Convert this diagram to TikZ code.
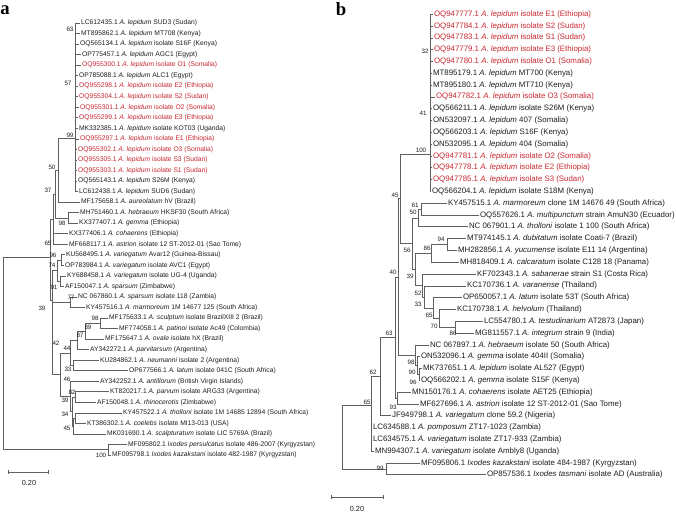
\documentclass[tikz,border=0pt]{standalone}
\usepackage{fontspec}
\setmainfont{Liberation Sans}
\newfontfamily\serifbold{Liberation Serif}
\definecolor{txt}{RGB}{30,30,30}
\definecolor{redc}{RGB}{200,40,48}
\definecolor{treeg}{RGB}{95,95,95}
\begin{document}
\begin{tikzpicture}[x=0.75pt,y=-0.75pt,
 br/.style={draw=treeg, line width=0.6pt},
 lfa/.style={anchor=west, inner xsep=0.6pt, inner ysep=0pt, font=\fontsize{5.05}{5.5}\selectfont, text=txt},
 lfb/.style={anchor=west, inner xsep=0.6pt, inner ysep=0pt, font=\fontsize{5.9}{6.5}\selectfont, text=txt},
 hl/.style={text=redc},
 bsa/.style={inner sep=0pt, font=\fontsize{4.7}{5}\selectfont, text=txt},
 bsb/.style={inner sep=0pt, font=\fontsize{4.7}{5}\selectfont, text=txt},
 panel/.style={inner sep=0pt, font=\serifbold\bfseries\fontsize{14}{14}\selectfont, text=black},
 scl/.style={inner sep=0pt, font=\fontsize{5.5}{6}\selectfont, text=txt}]
\useasboundingbox (0,0) rectangle (676,513);
\fill[white] (0,0) rectangle (676,513);

\node[panel] (pa) at (5,10) {a};
\node[panel] (pb) at (341,9) {b};

% ================= PANEL A leaves =================
\node[lfa] (a1) at (80,23.00) {LC612435.1 \textit{A. lepidum} SUD3 (Sudan)};
\node[lfa] (a2) at (80,33.54) {MT895862.1 \textit{A. lepidum} MT708 (Kenya)};
\node[lfa] (a3) at (79,44.08) {OQ565134.1 \textit{A. lepidum} isolate S16F (Kenya)};
\node[lfa] (a4) at (81,54.62) {OP775457.1 \textit{A. lepidum} AGC1 (Egypt)};
\node[lfa,hl] (a5) at (81,65.16) {OQ955300.1 \textit{A. lepidum} isolate O1 (Somalia)};
\node[lfa] (a6) at (78,75.70) {OP785088.1 \textit{A. lepidum} ALC1 (Egypt)};
\node[lfa,hl] (a7) at (78,86.24) {OQ955298.1 \textit{A. lepidum} isolate E2 (Ethiopia)};
\node[lfa,hl] (a8) at (78,96.78) {OQ955304.1 \textit{A. lepidum} isolate S2 (Sudan)};
\node[lfa,hl] (a9) at (79,107.32) {OQ955301.1 \textit{A. lepidum} isolate O2 (Somalia)};
\node[lfa,hl] (a10) at (78,117.86) {OQ955299.1 \textit{A. lepidum} isolate E3 (Ethiopia)};
\node[lfa] (a11) at (78,128.40) {MK332385.1 \textit{A. lepidum} isolate KOT03 (Uganda)};
\node[lfa,hl] (a12) at (79,138.94) {OQ955297.1 \textit{A. lepidum} isolate E1 (Ethiopia)};
\node[lfa,hl] (a13) at (77,149.48) {OQ955302.1 \textit{A. lepidum} isolate O3 (Somalia)};
\node[lfa,hl] (a14) at (77,160.02) {OQ955305.1 \textit{A. lepidum} isolate S3 (Sudan)};
\node[lfa,hl] (a15) at (77,170.56) {OQ955303.1 \textit{A. lepidum} isolate S1 (Sudan)};
\node[lfa] (a16) at (77,181.10) {OQ565143.1 \textit{A. lepidum} S26M (Kenya)};
\node[lfa] (a17) at (78,191.64) {LC612438.1 \textit{A. lepidum} SUD6 (Sudan)};
\node[lfa] (a18) at (80,202.18) {MF175658.1 \textit{A. aureolatum} hV (Brazil)};
\node[lfa] (a19) at (79,212.72) {MH751460.1 \textit{A. hebraeum} HKSF30 (South Africa)};
\node[lfa] (a20) at (78,223.26) {KX377407.1 \textit{A. gemma} (Ethiopia)};
\node[lfa] (a21) at (68,233.80) {KX377406.1 \textit{A. cohaerens} (Ethiopia)};
\node[lfa] (a22) at (68,244.34) {MF668117.1 \textit{A. astrion} isolate 12 ST-2012-01 (Sao Tome)};
\node[lfa] (a23) at (65,254.88) {KU568495.1 \textit{A. variegatum} Avar12 (Guinea-Bissau)};
\node[lfa] (a24) at (64,265.42) {OP783984.1 \textit{A. variegatum} isolate AVC1 (Egypt)};
\node[lfa] (a25) at (66,275.96) {KY688458.1 \textit{A. variegatum} isolate UG-4 (Uganda)};
\node[lfa] (a26) at (64,286.50) {AF150047.1 \textit{A. sparsum} (Zimbabwe)};
\node[lfa] (a27) at (77,297.04) {NC 067860.1 \textit{A. sparsum} isolate 118 (Zambia)};
\node[lfa] (a28) at (85,307.58) {KY457516.1 \textit{A. marmoreum} 1M 14677 125 (South Africa)};
\node[lfa] (a29) at (108,318.12) {MF175633.1 \textit{A. sculptum} isolate BrazilXIII 2 (Brazil)};
\node[lfa] (a30) at (118,328.66) {MF774058.1 \textit{A. patinoi} isolate Ac49 (Colombia)};
\node[lfa] (a31) at (104,339.20) {MF175647.1 \textit{A. ovale} isolate hX (Brazil)};
\node[lfa] (a32) at (89,349.74) {AY342272.1 \textit{A. parvitarsum} (Argentina)};
\node[lfa] (a33) at (99,360.28) {KU284862.1 \textit{A. neumanni} isolate 2 (Argentina)};
\node[lfa] (a34) at (128,370.82) {OP677566.1 \textit{A. latum} isolate 041C (South Africa)};
\node[lfa] (a35) at (99,381.36) {AY342252.1 \textit{A. antillorum} (British Virgin Islands)};
\node[lfa] (a36) at (109,391.90) {KT820217.1 \textit{A. parvum} isolate ARG33 (Argentina)};
\node[lfa] (a37) at (96,402.44) {AF150048.1 \textit{A. rhinocerotis} (Zimbabwe)};
\node[lfa] (a38) at (122,412.98) {KY457522.1 \textit{A. tholloni} isolate 1M 14685 12894 (South Africa)};
\node[lfa] (a39) at (86,423.52) {KT386302.1 \textit{A. coelebs} isolate MI13-013 (USA)};
\node[lfa] (a40) at (106,434.06) {MK031690.1 \textit{A. scalpturatum} isolate LIC 5769A (Brazil)};
\node[lfa] (a41) at (127,444.60) {MF095802.1 \textit{Ixodes persulcatus} isolate 486-2007 (Kyrgyzstan)};
\node[lfa] (a42) at (111,455.14) {MF095798.1 \textit{Ixodes kazakstani} isolate 482-1987 (Kyrgyzstan)};

% ================= PANEL A internal nodes =================
\coordinate (Ra) at (3,353.5);
\coordinate (Ia) at (50,257);
\coordinate (IXa) at (108,449.9);
\coordinate (N65a) at (53,219);
\coordinate (N37a) at (55,194);
\coordinate (N50a) at (58,170);
\coordinate (La) at (75,138);
\coordinate (N98a) at (68,218);
\coordinate (N39a) at (52,300);
\coordinate (N74a) at (57,270.7);
\coordinate (N96a) at (61,260.2);
\coordinate (N91a) at (60,281.2);
\coordinate (N77a) at (70,302.3);
\coordinate (N42a) at (60,374.8);
\coordinate (N44a) at (70,353.1);
\coordinate (N87a) at (77,340.7);
\coordinate (N89a) at (85,331.3);
\coordinate (N98b) at (100,323.4);
\coordinate (N33a) at (73,365.5);
\coordinate (N46a) at (70,396.5);
\coordinate (N39b) at (72,411.7);
\coordinate (N82a) at (75,397.2);
\coordinate (N45a) at (73,426.2);
\coordinate (N34a) at (75,418.3);

\draw[br] (Ra) |- (Ia); \draw[br] (Ra) |- (IXa);
\draw[br] (IXa) |- (a41.west); \draw[br] (IXa) |- (a42.west);
\draw[br] (Ia) |- (N65a); \draw[br] (Ia) |- (N39a);
\draw[br] (N65a) |- (N37a); \draw[br] (N65a) |- (a21.west); \draw[br] (N65a) |- (a22.west);
\draw[br] (N37a) |- (N50a); \draw[br] (N37a) |- (N98a);
\draw[br] (N50a) |- (La); \draw[br] (N50a) |- (a18.west);
\foreach \i in {1,...,17} \draw[br] (La) |- (a\i.west);
\draw[br] (N98a) |- (a19.west); \draw[br] (N98a) |- (a20.west);
\draw[br] (N39a) |- (N74a); \draw[br] (N39a) |- (N77a); \draw[br] (N39a) |- (N42a);
\draw[br] (N74a) |- (N96a); \draw[br] (N74a) |- (N91a);
\draw[br] (N96a) |- (a23.west); \draw[br] (N96a) |- (a24.west);
\draw[br] (N91a) |- (a25.west); \draw[br] (N91a) |- (a26.west);
\draw[br] (N77a) |- (a27.west); \draw[br] (N77a) |- (a28.west);
\draw[br] (N42a) |- (N44a); \draw[br] (N42a) |- (N46a);
\draw[br] (N44a) |- (N87a); \draw[br] (N44a) |- (N33a);
\draw[br] (N87a) |- (N89a); \draw[br] (N87a) |- (a32.west);
\draw[br] (N89a) |- (N98b); \draw[br] (N89a) |- (a31.west);
\draw[br] (N98b) |- (a29.west); \draw[br] (N98b) |- (a30.west);
\draw[br] (N33a) |- (a33.west); \draw[br] (N33a) |- (a34.west);
\draw[br] (N46a) |- (a35.west); \draw[br] (N46a) |- (N39b);
\draw[br] (N39b) |- (N82a); \draw[br] (N39b) |- (N45a);
\draw[br] (N82a) |- (a36.west); \draw[br] (N82a) |- (a37.west);
\draw[br] (N45a) |- (N34a); \draw[br] (N45a) |- (a40.west);
\draw[br] (N34a) |- (a38.west); \draw[br] (N34a) |- (a39.west);

% bootstrap a
\node[bsa] (ba1) at (70,29) {63};
\node[bsa] (ba2) at (68,83) {57};
\node[bsa] (ba3) at (70,135) {99};
\node[bsa] (ba4) at (52,167) {50};
\node[bsa] (ba5) at (48,190) {37};
\node[bsa] (ba6) at (62,223) {98};
\node[bsa] (ba7) at (48,243) {65};
\node[bsa] (ba8) at (53,255) {96};
\node[bsa] (ba9) at (52,265) {74};
\node[bsa] (ba10) at (54,287) {91};
\node[bsa] (ba11) at (71,297) {77};
\node[bsa] (ba12) at (42,308) {39};
\node[bsa] (ba13) at (95,318) {98};
\node[bsa] (ba14) at (88,327) {89};
\node[bsa] (ba15) at (80,335) {87};
\node[bsa] (ba16) at (56,343) {42};
\node[bsa] (ba17) at (67,348) {44};
\node[bsa] (ba18) at (68,369) {33};
\node[bsa] (ba19) at (67,379) {46};
\node[bsa] (ba20) at (72,392) {82};
\node[bsa] (ba21) at (65,400) {39};
\node[bsa] (ba22) at (65,414) {34};
\node[bsa] (ba23) at (67,428) {45};
\node[bsa] (ba24) at (101,455) {100};

% scale a
\coordinate (sa1) at (8,472); \coordinate (sa2) at (48,472);
\draw[br] (sa1) -- (sa2);
\draw[br] ([yshift=1.5pt]sa1) -- ([yshift=-1.5pt]sa1);
\draw[br] ([yshift=1.5pt]sa2) -- ([yshift=-1.5pt]sa2);
\node[scl] (sla) at (29,483) {0.20};

% ================= PANEL B leaves =================
\node[lfb,hl] (b1) at (433,14.30) {OQ947777.1 \textit{A. lepidum} isolate E1 (Ethiopia)};
\node[lfb,hl] (b2) at (433,26.11) {OQ947784.1 \textit{A. lepidum} isolate S2 (Sudan)};
\node[lfb,hl] (b3) at (433,37.92) {OQ947783.1 \textit{A. lepidum} isolate S1 (Sudan)};
\node[lfb,hl] (b4) at (433,49.73) {OQ947779.1 \textit{A. lepidum} isolate E3 (Ethiopia)};
\node[lfb,hl] (b5) at (433,61.54) {OQ947780.1 \textit{A. lepidum} isolate O1 (Somalia)};
\node[lfb] (b6) at (432,73.35) {MT895179.1 \textit{A. lepidum} MT700 (Kenya)};
\node[lfb] (b7) at (432,85.16) {MT895180.1 \textit{A. lepidum} MT710 (Kenya)};
\node[lfb,hl] (b8) at (435,96.97) {OQ947782.1 \textit{A. lepidum} isolate O3 (Somalia)};
\node[lfb] (b9) at (432,108.78) {OQ566211.1 \textit{A. lepidum} isolate S26M (Kenya)};
\node[lfb] (b10) at (432,120.59) {ON532097.1 \textit{A. lepidum} 407 (Somalia)};
\node[lfb] (b11) at (432,132.40) {OQ566203.1 \textit{A. lepidum} S16F (Kenya)};
\node[lfb] (b12) at (432,144.21) {ON532095.1 \textit{A. lepidum} 404 (Somalia)};
\node[lfb,hl] (b13) at (432,156.02) {OQ947781.1 \textit{A. lepidum} isolate O2 (Somalia)};
\node[lfb,hl] (b14) at (432,167.83) {OQ947778.1 \textit{A. lepidum} isolate E2 (Ethiopia)};
\node[lfb,hl] (b15) at (432,179.64) {OQ947785.1 \textit{A. lepidum} isolate S3 (Sudan)};
\node[lfb] (b16) at (431,191.45) {OQ566204.1 \textit{A. lepidum} isolate S18M (Kenya)};
\node[lfb] (b17) at (447,203.26) {KY457515.1 \textit{A. marmoreum} clone 1M 14676 49 (South Africa)};
\node[lfb] (b18) at (479,215.07) {OQ557626.1 \textit{A. multipunctum} strain AmuN30 (Ecuador)};
\node[lfb] (b19) at (468,226.88) {NC 067901.1 \textit{A. tholloni} isolate 1 100 (South Africa)};
\node[lfb] (b20) at (466,238.69) {MT974145.1 \textit{A. dubitatum} isolate Coati-7 (Brazil)};
\node[lfb] (b21) at (457,250.50) {MH282856.1 \textit{A. yucumense} isolate E11 14 (Argentina)};
\node[lfb] (b22) at (459,262.31) {MH818409.1 \textit{A. calcaratum} isolate C128 18 (Panama)};
\node[lfb] (b23) at (476,274.12) {KF702343.1 \textit{A. sabanerae} strain S1 (Costa Rica)};
\node[lfb] (b24) at (466,285.93) {KC170736.1 \textit{A. varanense} (Thailand)};
\node[lfb] (b25) at (462,297.74) {OP650057.1 \textit{A. latum} isolate 53T (South Africa)};
\node[lfb] (b26) at (456,309.55) {KC170738.1 \textit{A. helvolum} (Thailand)};
\node[lfb] (b27) at (483,321.36) {LC554780.1 \textit{A. testudinarium} AT2873 (Japan)};
\node[lfb] (b28) at (474,333.17) {MG811557.1 \textit{A. integrum} strain 9 (India)};
\node[lfb] (b29) at (429,344.98) {NC 067897.1 \textit{A. hebraeum} isolate 50 (South Africa)};
\node[lfb] (b30) at (420,356.79) {ON532096.1 \textit{A. gemma} isolate 404II (Somalia)};
\node[lfb] (b31) at (422,368.60) {MK737651.1 \textit{A. lepidum} isolate AL527 (Egypt)};
\node[lfb] (b32) at (420,380.41) {OQ566202.1 \textit{A. gemma} isolate S15F (Kenya)};
\node[lfb] (b33) at (411,392.22) {MN150176.1 \textit{A. cohaerens} isolate AET25 (Ethiopia)};
\node[lfb] (b34) at (419,404.03) {MF627696.1 \textit{A. astrion} isolate 12 ST-2012-01 (Sao Tome)};
\node[lfb] (b35) at (391,415.84) {JF949798.1 \textit{A. variegatum} clone 59.2 (Nigeria)};
\node[lfb] (b36) at (372,427.65) {LC634588.1 \textit{A. pomposum} ZT17-1023 (Zambia)};
\node[lfb] (b37) at (372,439.46) {LC634575.1 \textit{A. variegatum} isolate ZT17-933 (Zambia)};
\node[lfb] (b38) at (374,451.27) {MN994307.1 \textit{A. variegatum} isolate Ambly8 (Uganda)};
\node[lfb] (b39) at (420,463.08) {MF095806.1 \textit{Ixodes kazakstani} isolate 484-1987 (Kyrgyzstan)};
\node[lfb] (b40) at (486,474.89) {OP857536.1 \textit{Ixodes tasmani} isolate AD (Australia)};

% ================= PANEL B internal nodes =================
\coordinate (Rb) at (342,437);
\coordinate (N65b) at (371,405);
\coordinate (IXb) at (386,469);
\coordinate (N62b) at (380,376.7);
\coordinate (N63b) at (395,337.5);
\coordinate (N93b) at (397,398.1);
\coordinate (N40b) at (398,277.1);
\coordinate (N45b) at (400,198.9);
\coordinate (Lb) at (430,154);
\coordinate (N56b) at (412,243.7);
\coordinate (N50b) at (418,218);
\coordinate (N61b) at (421,209.2);
\coordinate (N39c) at (415,269.5);
\coordinate (N86a) at (431,253.4);
\coordinate (N94b) at (447,244.6);
\coordinate (N52b) at (422,285.5);
\coordinate (N33b) at (424,297);
\coordinate (N65c) at (433,308);
\coordinate (N70b) at (439,318.4);
\coordinate (N86b) at (455,327.3);
\coordinate (N98c) at (415,355.3);
\coordinate (N90b) at (417,365.7);
\coordinate (N96b) at (419,374.5);

\draw[br] (Rb) |- (N65b); \draw[br] (Rb) |- (IXb);
\draw[br] (IXb) |- (b39.west); \draw[br] (IXb) |- (b40.west);
\draw[br] (N65b) |- (N62b);
\draw[br] (N65b) |- (b36.west); \draw[br] (N65b) |- (b37.west); \draw[br] (N65b) |- (b38.west);
\draw[br] (N62b) |- (N63b); \draw[br] (N62b) |- (b35.west);
\draw[br] (N63b) |- (N40b); \draw[br] (N63b) |- (N93b);
\draw[br] (N93b) |- (b33.west); \draw[br] (N93b) |- (b34.west);
\draw[br] (N40b) |- (N45b); \draw[br] (N40b) |- (N98c);
\draw[br] (N45b) |- (Lb); \draw[br] (N45b) |- (N56b);
\foreach \i in {1,...,16} \draw[br] (Lb) |- (b\i.west);
\draw[br] (N56b) |- (N50b); \draw[br] (N56b) |- (N39c);
\draw[br] (N50b) |- (N61b); \draw[br] (N50b) |- (b19.west);
\draw[br] (N61b) |- (b17.west); \draw[br] (N61b) |- (b18.west);
\draw[br] (N39c) |- (N86a); \draw[br] (N39c) |- (N52b);
\draw[br] (N86a) |- (N94b); \draw[br] (N86a) |- (b22.west);
\draw[br] (N94b) |- (b20.west); \draw[br] (N94b) |- (b21.west);
\draw[br] (N52b) |- (b23.west); \draw[br] (N52b) |- (N33b);
\draw[br] (N33b) |- (b24.west); \draw[br] (N33b) |- (N65c);
\draw[br] (N65c) |- (b25.west); \draw[br] (N65c) |- (N70b);
\draw[br] (N70b) |- (b26.west); \draw[br] (N70b) |- (N86b);
\draw[br] (N86b) |- (b27.west); \draw[br] (N86b) |- (b28.west);
\draw[br] (N98c) |- (b29.west); \draw[br] (N98c) |- (N90b);
\draw[br] (N90b) |- (b30.west); \draw[br] (N90b) |- (N96b);
\draw[br] (N96b) |- (b31.west); \draw[br] (N96b) |- (b32.west);

% bootstrap b
\node[bsb] (bb1) at (425,51) {32};
\node[bsb] (bb2) at (423,113) {41};
\node[bsb] (bb3) at (421,150) {100};
\node[bsb] (bb4) at (395,195) {45};
\node[bsb] (bb5) at (415,205) {61};
\node[bsb] (bb6) at (413,212) {50};
\node[bsb] (bb7) at (441,239) {94};
\node[bsb] (bb8) at (427,248) {86};
\node[bsb] (bb9) at (407,250) {56};
\node[bsb] (bb10) at (393,272) {40};
\node[bsb] (bb11) at (410,276) {39};
\node[bsb] (bb12) at (418,293) {52};
\node[bsb] (bb13) at (418,304) {33};
\node[bsb] (bb14) at (429,315) {65};
\node[bsb] (bb15) at (434,326) {70};
\node[bsb] (bb16) at (453,333) {86};
\node[bsb] (bb17) at (389,333) {63};
\node[bsb] (bb18) at (411,362) {98};
\node[bsb] (bb19) at (412,372) {90};
\node[bsb] (bb20) at (373,372) {62};
\node[bsb] (bb21) at (413,382) {96};
\node[bsb] (bb22) at (367,402) {65};
\node[bsb] (bb23) at (393,407) {93};
\node[bsb] (bb24) at (380,468) {99};

% scale b
\coordinate (sb1) at (331,497); \coordinate (sb2) at (383,497);
\draw[br] (sb1) -- (sb2);
\draw[br] ([yshift=1.5pt]sb1) -- ([yshift=-1.5pt]sb1);
\draw[br] ([yshift=1.5pt]sb2) -- ([yshift=-1.5pt]sb2);
\node[scl] (slb) at (357,509) {0.20};
\end{tikzpicture}
\end{document}
